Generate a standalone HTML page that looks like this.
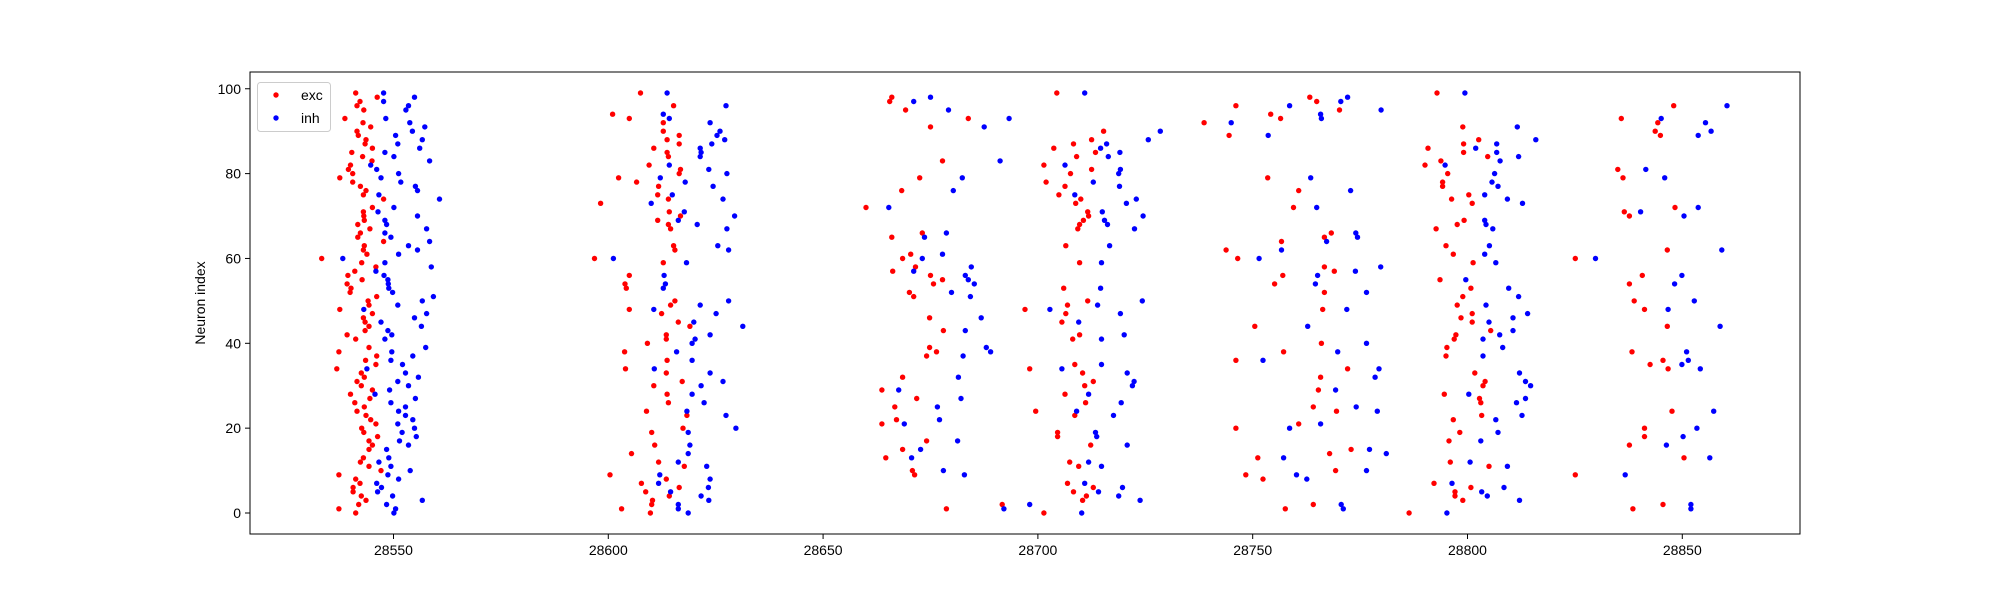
<!DOCTYPE html>
<html><head><meta charset="utf-8"><style>
html,body{margin:0;padding:0;background:#fff;}
svg{display:block;font-family:"Liberation Sans","DejaVu Sans",sans-serif;}
</style></head><body>
<svg id="chart" width="2000" height="600" xmlns="http://www.w3.org/2000/svg"></svg>
<script>
const xTicks=[28550,28600,28650,28700,28750,28800,28850];
const yTicks=[0,20,40,60,80,100];
const seriesNames=["exc","inh"];
const excX=[
28541.2,28542.2,28541.5,28543.1,28546.2,28538.7,28542.9,28544.7,28541.5,28541.8,28543.6,28543.4,28545.1,28540.3,28542.8,28545,28540,28539.5,28540.5,28537.5,28540.5,28542.3,28543.6,28543,28547.7,28545.1,28543,28543.1,28543.2,28541.7,28544.5,28542.3,28541.7,28547.7,28543.2,28543,28543.8,28533.3,28542.6,28545.9,28541,28539.4,28542.7,28539.2,28540.1,28539.9,28546.1,28544.1,28544.3,28537.5,28545.1,28543,28543.4,28544.3,28543.4,28539.2,28541.2,28537.3,28544.3,28546.1,28543.5,28545.9,28536.8,28542.5,28543.2,28541.5,28542.5,28545.1,28540,28544.5,28541,28543.2,28541.5,28543.6,28544.7,28545.9,28542.6,28543.1,28546.3,28544.3,28545.1,28544.3,28543,28542.3,28544.3,28547.1,28537.3,28541.2,28542.2,28540.6,28540.6,28542.5,28543.6,28541.9,28537.3,28541.2,
28607.5,28615.2,28601,28604.9,28612.8,28612.8,28616.5,28613.7,28616.5,28610.6,28613.7,28614,28609.5,28616.8,28616.5,28602.4,28606.6,28611.7,28611.5,28614,28598.2,28614.2,28616.8,28611.5,28614,28614.5,28615.2,28615.5,28596.8,28612.8,28604.9,28603.9,28604.2,28604.9,28615.5,28614.5,28612.4,28616.3,28619,28613.5,28613.5,28609.1,28603.8,28613.7,28604,28613.5,28617.2,28610.6,28613.7,28614,28608.9,28618.3,28617.4,28610.1,28610.8,28605.4,28611.7,28617.7,28600.4,28613.5,28607.7,28616.5,28608.7,28614.2,28610.3,28610.1,28603.1,28609.8,
28666,28665.5,28669.2,28683.8,28675,28677.8,28672.5,28668.3,28660,28666,28673.1,28670.4,28668.5,28671.5,28666.2,28675,28677.8,28675.7,28670.1,28671.1,28674.8,28678,28674.8,28676.4,28674.1,28668.5,28663.7,28671.8,28666.7,28667.1,28663.7,28674.1,28668.5,28664.6,28670.8,28671.3,28678.7,28691.7,
28704.4,28715.3,28712.5,28708.3,28703.7,28713.4,28709,28701.4,28712.5,28707.6,28701.9,28706.3,28704.9,28710,28708.8,28711.6,28711.8,28710.6,28709.7,28709.3,28706.5,28709.7,28706,28711.6,28706.9,28697,28706.5,28705.6,28709.7,28708.1,28698.1,28708.6,28710.4,28712.9,28710.9,28706.3,28711.1,28699.5,28708.6,28704.6,28704.6,28712.3,28707.4,28709.5,28706.9,28712.9,28708.3,28711.3,28710.4,28701.4,
28746.1,28738.7,28744.5,28743.8,28746.5,28746.1,28746.1,28748.4,28763.3,28764.9,28770.2,28754.2,28756.5,28753.5,28760.7,28759.5,28768.3,28766.7,28756.7,28766.7,28769,28757,28755.1,28766.7,28766.3,28750.5,28766,28757.2,28772.1,28765.8,28765.3,28764.1,28769.5,28760.7,28772.9,28767.9,28751.2,28769.3,28752.4,28764.1,28757.6,
28792.9,28798.9,28802.6,28799.1,28799.1,28790.8,28804.7,28793.8,28790.1,28795.4,28794.2,28794.2,28796.3,28800.3,28801.1,28799.2,28797.6,28792.7,28795,28796.7,28801.3,28793.6,28800.8,28798.9,28797.6,28798.5,28801.1,28801.1,28805.4,28797.3,28796.9,28795.2,28795,28801.7,28804.1,28803.6,28794.6,28802.8,28803.1,28803.3,28796.7,28798.2,28795.7,28796,28805,28792.2,28800.8,28797.1,28797.1,28798.9,28786.4,
28825.1,28825.1,28848,28835.8,28844.3,28843.7,28844.9,28835,28836.2,28848.3,28836.5,28837.7,28846.5,28840.7,28837.7,28838.8,28841.2,28846.5,28838.3,28845.5,28842.5,28846.7,28847.6,28841.2,28841.2,28837.7,28850.4,28845.5,28838.5];
const excY=[
99,97,96,95,98,93,92,91,90,89,88,87,86,85,84,83,82,81,80,79,78,77,76,75,74,72,71,70,69,68,67,66,65,64,63,62,61,60,59,58,57,56,55,54,53,52,51,50,49,48,47,46,45,44,43,42,41,38,39,37,36,35,34,33,32,31,30,29,28,27,26,25,24,23,22,21,20,19,18,17,16,15,13,12,11,10,9,8,7,6,5,4,3,2,1,0,
99,96,94,93,92,90,89,88,87,86,85,84,82,81,80,79,78,77,75,74,73,71,70,69,68,67,63,62,60,59,56,54,53,48,50,49,47,45,44,42,41,40,38,36,34,33,31,30,28,26,24,23,20,19,16,14,12,11,9,8,7,6,5,4,3,2,1,0,
98,97,95,93,91,83,79,76,72,65,66,61,60,58,57,56,55,54,52,51,46,43,39,38,37,32,29,27,25,22,21,17,15,13,10,9,1,2,
99,90,88,87,86,85,84,82,81,80,78,77,75,74,73,71,70,69,68,67,63,59,53,50,49,48,47,45,42,41,34,35,33,31,30,28,26,24,23,19,18,16,12,11,7,6,5,4,3,0,
96,92,89,62,60,36,20,9,98,97,95,94,93,79,76,72,66,65,64,58,57,56,54,52,48,44,40,38,34,32,29,25,24,21,15,14,13,10,8,2,1,
99,91,88,87,85,86,84,83,82,80,78,77,74,75,73,69,68,67,63,61,59,55,53,51,49,46,47,45,43,42,41,39,37,33,31,30,28,27,26,23,22,19,17,12,11,7,6,5,4,3,0,
60,9,96,93,92,90,89,81,79,72,71,70,62,56,54,50,48,44,38,36,35,34,24,20,18,16,13,2,1];
const inhX=[
28547.7,28554.9,28547.7,28553.5,28552.9,28548.2,28553.8,28557.3,28554.4,28550.5,28556.7,28551,28556.1,28548,28550.1,28558.4,28544.7,28546.1,28551.2,28547.1,28551.7,28555.1,28555.6,28546.6,28560.7,28550.1,28546.4,28555.6,28548,28548.4,28557.7,28548,28549.4,28558.4,28553.5,28555.6,28551.2,28538.2,28548,28558.8,28545.9,28547.8,28548.7,28548.8,28548.9,28549.8,28559.3,28556.7,28551,28543.1,28557.7,28554.9,28547.1,28556.5,28548.7,28549.6,28548,28557.5,28549.6,28554.5,28549.4,28552.1,28543.8,28552.8,28555.8,28551,28553.5,28549.1,28545.7,28555.1,28549.4,28552.8,28551.2,28552.8,28554.5,28551,28554.9,28552,28555.3,28551.4,28553.5,28548.4,28548.9,28546.6,28549.4,28553.9,28548.7,28551.2,28546.1,28547.2,28546.3,28549.8,28556.7,28548.4,28550.5,28550.1,
28613.7,28627.4,28612.8,28614.2,28623.7,28626,28625.3,28627.1,28624.1,28621.4,28621.6,28621.4,28614.2,28623.4,28627.6,28612.1,28617.9,28624.4,28614.9,28626.7,28610,28617.7,28629.4,28616.3,28620.7,28627.6,28625.5,28628,28601.2,28618.2,28613,28613.3,28612.8,28628,28621.4,28610.6,28625.1,28619.9,28631.3,28623.7,28620.2,28619.5,28615.9,28619.5,28610.7,28623.7,28626.7,28621.6,28619.5,28622.3,28618.3,28627.4,28629.7,28618.6,28619,28618.6,28616.3,28622.9,28612,28623.7,28611.7,28623.3,28614.5,28621.6,28623.4,28616.3,28616.3,28618.6,
28671.1,28675,28679.2,28693.3,28687.5,28691.2,28682.4,28680.3,28665.3,28678.7,28673.6,28677.8,28673.1,28684.5,28671.1,28683.1,28683.8,28685.2,28679.9,28684.3,28686.8,28683.1,28688,28689,28682.6,28681.5,28667.6,28682.1,28676.6,28677.1,28668.9,28681.3,28672.7,28670.6,28678,28682.9,28692.1,28698.1,
28710.9,28728.5,28725.7,28716,28714.6,28719.1,28716.4,28706.3,28719.2,28718.8,28712.9,28719,28708.6,28722.9,28720.6,28715,28724.5,28715.5,28716.2,28722.5,28716.7,28714.8,28714.6,28724.3,28713.9,28702.8,28719.2,28709.5,28720.1,28714.8,28705.6,28714.8,28720.8,28722.4,28722,28711.8,28719.4,28717.6,28709,28713.4,28713.7,28720.8,28711.8,28714.8,28710.9,28719.7,28714.1,28718.8,28723.8,28710.2,
28745,28758.6,28770.5,28772.1,28765.8,28766,28779.9,28753.6,28763.5,28772.8,28764.9,28774,28774.4,28767.2,28756.7,28751.5,28773.9,28779.8,28765.1,28764.6,28776.5,28771.9,28762.8,28776.5,28769.8,28752.4,28779.4,28778.5,28769.3,28774.1,28779,28765.8,28758.6,28777.2,28781.1,28757.2,28776.5,28760.2,28762.6,28770.6,28771.1,
28799.4,28811.6,28815.9,28806.8,28801.9,28806.8,28811.9,28807.6,28794.8,28806.3,28805.7,28807.1,28804,28809.3,28812.8,28804,28804.3,28805.9,28805.1,28804,28806.6,28799.6,28809.6,28811.9,28804.3,28810.6,28814,28805,28810.6,28807.5,28803.6,28808.2,28803.6,28812.1,28813.5,28814.7,28800.3,28813.5,28811.4,28812.7,28806.6,28807.1,28803.1,28800.6,28809.3,28796.4,28808.5,28803.3,28804.6,28812.1,28795.2,
28829.8,28836.7,28860.4,28845.1,28855.4,28856.7,28853.7,28841.5,28845.9,28853.7,28840.3,28850.4,28859.2,28849.9,28848.2,28852.8,28846.7,28858.8,28851,28851.4,28849.9,28854.2,28857.3,28853.4,28850.2,28846.3,28856.4,28852,28852];
const inhY=[
99,98,97,96,95,93,92,91,90,89,88,87,86,85,84,83,82,81,80,79,78,77,76,75,74,72,71,70,69,68,67,66,65,64,63,62,61,60,59,58,57,56,55,54,53,52,51,50,49,48,47,46,45,44,43,42,41,39,38,37,36,35,34,33,32,31,30,29,28,27,26,25,24,23,22,21,20,19,18,17,16,15,13,12,11,10,9,8,7,6,5,4,3,2,1,0,
99,96,94,93,92,90,89,88,87,86,85,84,82,81,80,79,78,77,75,74,73,71,70,69,68,67,63,62,60,59,56,54,53,50,49,48,47,45,44,42,41,40,38,36,34,33,31,30,28,26,24,23,20,19,16,14,12,11,9,8,7,6,5,4,3,2,1,0,
97,98,95,93,91,83,79,76,72,66,65,61,60,58,57,56,55,54,52,51,46,43,39,38,37,32,29,27,25,22,21,17,15,13,10,9,1,2,
99,90,88,87,86,85,84,82,81,80,78,77,75,74,73,71,70,69,68,67,63,59,53,50,49,48,47,45,42,41,34,35,33,31,30,28,26,23,24,19,18,16,12,11,7,6,5,4,3,0,
92,96,97,98,94,93,95,89,79,76,72,66,65,64,62,60,57,58,56,54,52,48,44,40,38,36,34,32,29,25,24,21,20,15,14,13,10,9,8,2,1,
99,91,88,87,86,85,84,83,82,80,78,77,75,74,73,69,68,67,63,61,59,55,53,51,49,46,47,45,43,42,41,39,37,33,31,30,28,27,26,23,22,19,17,12,11,7,6,5,4,3,0,
60,9,96,93,92,90,89,81,79,72,71,70,62,56,54,50,48,44,38,36,35,34,24,20,18,16,13,2,1];

const L=250,R=1800,T=72,B=534;
const xMin=28516.6,xMax=28877.4,yMin=-4.95,yMax=103.95;
function sx(v){return L+(v-xMin)/(xMax-xMin)*(R-L);}
function sy(v){return B-(v-yMin)/(yMax-yMin)*(B-T);}
const NS="http://www.w3.org/2000/svg";
const svg=document.getElementById('chart');
function mk(tag,attrs,parent){const e=document.createElementNS(NS,tag);for(const k in attrs)e.setAttribute(k,attrs[k]);(parent||svg).appendChild(e);return e;}

const pts=mk('g',{});


function drawSeries(xs,ys,color,name){
  const g=mk('g',{},pts);
  
  
  for(let i=0;i<xs.length;i++){
    const c=mk('circle',{cx:sx(xs[i]).toFixed(1),cy:sy(ys[i]).toFixed(1),r:2.7,fill:color},g);
    
    
  }
}
drawSeries(excX,excY,'#ff0000','exc');
drawSeries(inhX,inhY,'#0000ff','inh');

const frame=mk('rect',{x:L,y:T,width:R-L,height:B-T,fill:'none',stroke:'#000','stroke-width':1});



xTicks.forEach(t=>{
  const x=sx(t);
  const tk=mk('line',{x1:x,x2:x,y1:B,y2:B+5,stroke:'#000','stroke-width':1});
  
  
  const tx=mk('text',{x:x,y:B+21,'text-anchor':'middle','font-size':'14px',fill:'#000'});
  tx.textContent=t;
  
  
});
yTicks.forEach(t=>{
  const y=sy(t);
  const tk=mk('line',{x1:L-5,x2:L,y1:y,y2:y,stroke:'#000','stroke-width':1});
  
  
  const tx=mk('text',{x:L-9,y:y+5,'text-anchor':'end','font-size':'14px',fill:'#000'});
  tx.textContent=t;
  
  
});
const yl=mk('text',{x:0,y:0,transform:'translate(205,303) rotate(-90)','text-anchor':'middle','font-size':'14px',fill:'#000'});
yl.textContent='Neuron index';



const lg=mk('g',{});


mk('rect',{x:257.5,y:82.5,width:73,height:49,rx:3,fill:'#fff','fill-opacity':0.8,stroke:'#ccc','stroke-width':1},lg);
const colors=['#ff0000','#0000ff'];
seriesNames.forEach((n,i)=>{
  const y=95+i*23;
  const e=mk('g',{},lg);
  
  
  mk('circle',{cx:276,cy:y,r:2.7,fill:colors[i]},e);
  const t=mk('text',{x:301,y:y+5,'font-size':'14px',fill:'#000'},e);
  t.textContent=n;
});
</script>
</body></html>
